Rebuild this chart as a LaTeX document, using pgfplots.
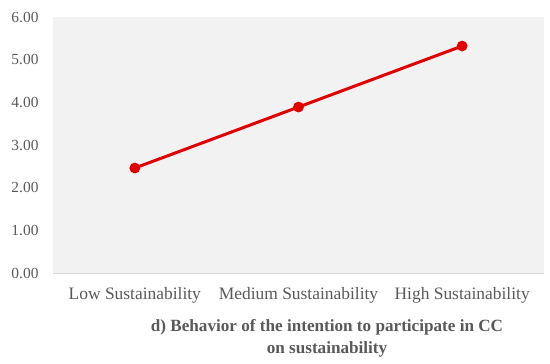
\documentclass[border=0pt]{standalone}
\usepackage{pgfplots}
\pgfplotsset{compat=1.18}
\usepackage{fontspec}
\setmainfont{Liberation Serif}
\definecolor{txt}{HTML}{595959}
\definecolor{bg}{HTML}{F2F2F2}
\definecolor{ln}{HTML}{E00000}
\definecolor{base}{HTML}{D9D9D9}
\begin{document}
\begin{tikzpicture}
\useasboundingbox (-53bp,-91bp) rectangle (497bp,273bp);
\begin{axis}[
  scale only axis, width=491bp, height=256bp,
  anchor=south west, at={(0,0)},
  xmin=-0.5, xmax=2.5, ymin=0, ymax=6,
  xtick={0,1,2},
  xticklabels={Low Sustainability, Medium Sustainability, High Sustainability},
  ytick={0,1,2,3,4,5,6},
  yticklabel={\pgfmathprintnumber[fixed,fixed zerofill,precision=2]{\tick}},
  /pgf/number format/assume math mode=true,
  axis background/.style={fill=bg},
  axis line style={draw=none},
  major tick length=0pt,
  tick label style={text=txt},
  xticklabel style={yshift=-11bp, font=\fontsize{17.5}{20}\selectfont},
  yticklabel style={xshift=-11bp, font=\fontsize{15.5}{18}\selectfont},
  clip=false,
]
\draw[base, line width=0.8bp] (rel axis cs:0,0) -- (rel axis cs:1,0);
\addplot[ln, line width=3bp, mark=*, mark size=3.8bp, mark options={fill=ln, draw=ln}]
  coordinates {(0,2.46) (1,3.89) (2,5.32)};
\end{axis}
\node[text=txt, font=\bfseries\fontsize{17.2}{22}\selectfont, align=center] at (274bp,-65bp)
  {d) Behavior of the intention to participate in CC\\on sustainability};
\end{tikzpicture}
\end{document}
